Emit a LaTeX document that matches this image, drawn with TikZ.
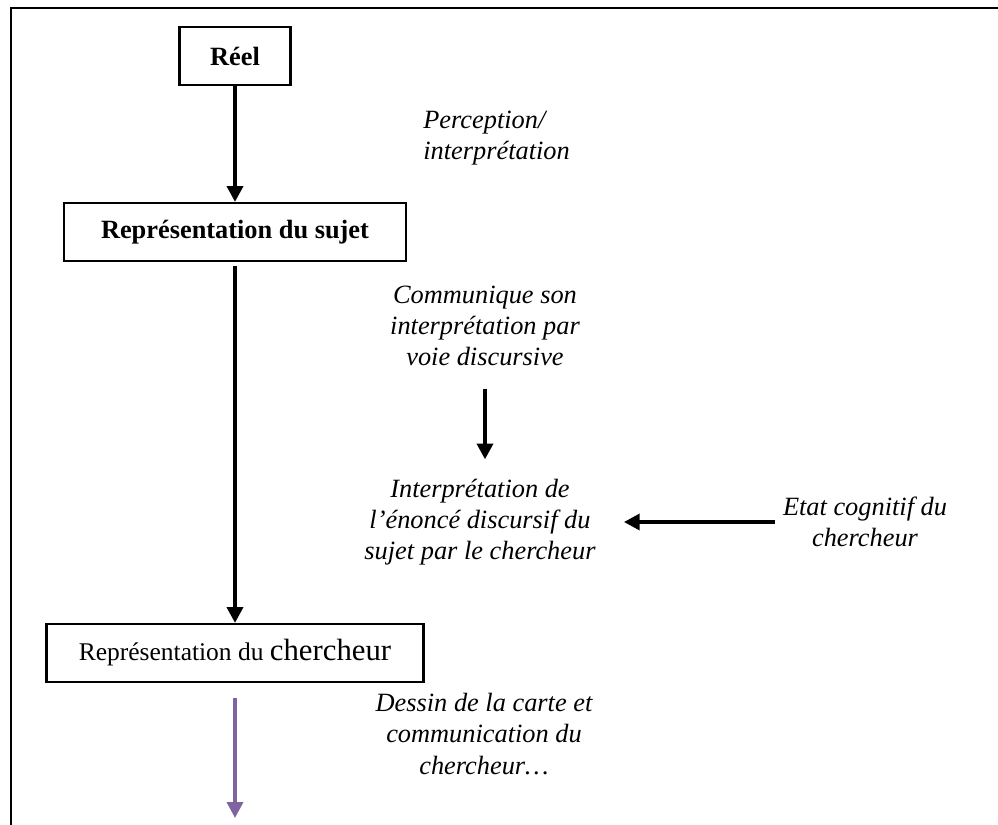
\documentclass[tikz,border=0pt]{standalone}
\usepackage{fontspec}
\setmainfont{Liberation Serif}
\usepackage{xcolor}
\usepackage{tikz}
\usetikzlibrary{arrows.meta,positioning}
\definecolor{violetfleche}{HTML}{8064A2}

\begin{document}
\begin{tikzpicture}[
boite/.style={draw, line width=1.2pt, minimum height=1.16cm, inner sep=0pt},
legende/.style={align=center, inner sep=0pt, font=\fontsize{15}{17.8}\selectfont\itshape},
fleche/.style={line width=2.2pt, -{Triangle[length=9pt,width=9pt]}}]
\useasboundingbox (0,0) rectangle (19.96,-16.5);
\draw[line width=1.4pt] (0.22,-16.5) |- (19.96,-0.16);

\node[boite, minimum width=2.22cm, font=\fontsize{15}{18}\selectfont\bfseries] (reel) at (4.7,-1.12) {Réel};
\node[boite, minimum width=6.84cm, font=\fontsize{15}{18}\selectfont\bfseries] (sujet) at (4.7,-4.64) {Représentation du sujet};
\node[boite, minimum width=7.54cm, font=\fontsize{14.5}{18}\selectfont] (chercheur) at (4.7,-13.06) {Représentation du {\fontsize{17.5}{18}\selectfont chercheur}};

\node[legende, align=left, anchor=west] (percep) at (8.46,-2.76) {Perception/\\interprétation};
\node[legende] (comm) at (9.7,-6.52) {Communique son\\interprétation par\\voie discursive};
\node[legende] (interp) at (9.6,-10.44) {Interprétation de\\l’énoncé discursif du\\sujet par le chercheur};
\node[legende] (etat) at (17.3,-10.44) {Etat cognitif du\\chercheur};
\node[legende] (dessin) at (9.68,-14.68) {Dessin de la carte et\\communication du\\chercheur…};
\coordinate (fin) at (4.7,-16.36);

\draw[fleche] (reel) -- (sujet);
\draw[fleche, shorten <=0.08cm] (sujet) -- (chercheur);
\draw[fleche, shorten <=0.44cm, shorten >=0.38cm] (comm) -- (comm |- interp.north);
\draw[fleche, shorten <=0.15cm, shorten >=0.56cm] (etat) -- (interp);
\draw[fleche, violetfleche, line width=2pt, shorten <=0.3cm] (chercheur) -- (fin);
\end{tikzpicture}
\end{document}
